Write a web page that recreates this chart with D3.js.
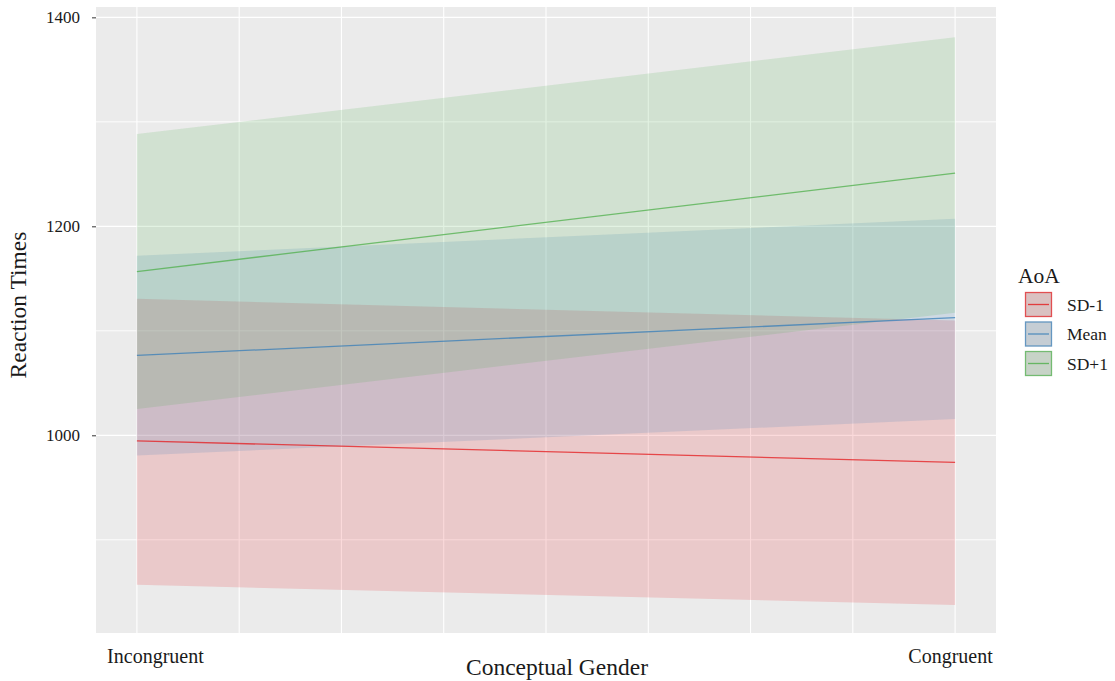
<!DOCTYPE html>
<html>
<head>
<meta charset="utf-8">
<script src="https://cdn.jsdelivr.net/npm/d3@7"></script>
<style>
  body { margin: 0; background: #fff; }
  text { font-family: "Liberation Serif", "Times New Roman", serif; fill: #1a1a1a; }
</style>
</head>
<body>
<div id="chart"></div>
<script>
// x positions (0 = Incongruent, 1 = Congruent)
const xValues = [0, 1];
const xLabels = ["Incongruent", "Congruent"];
const groups = ["SD-1", "Mean", "SD+1"];
const colors = ["#E41A1C", "#377EB8", "#4DAF4A"];

// fitted values and confidence band per group
const fitSDm1 = [994.7, 974.0];
const lowSDm1 = [856.9, 837.5];
const highSDm1 = [1130.6, 1109.8];

const fitMean = [1076.4, 1112.7];
const lowMean = [980.7, 1015.5];
const highMean = [1171.8, 1207.2];

const fitSDp1 = [1156.7, 1250.9];
const lowSDp1 = [1025.1, 1117.4];
const highSDp1 = [1288.3, 1381.0];

const yTicks = [1000, 1200, 1400];
const yMinor = [900, 1100, 1300];
const xGrid = [0, 0.125, 0.25, 0.375, 0.5, 0.625, 0.75, 0.875, 1];

const series = [
  { name: groups[0], color: colors[0], fit: fitSDm1, low: lowSDm1, high: highSDm1 },
  { name: groups[1], color: colors[1], fit: fitMean, low: lowMean, high: highMean },
  { name: groups[2], color: colors[2], fit: fitSDp1, low: lowSDp1, high: highSDp1 }
];

const width = 1115, height = 681;
const panel = { left: 96, right: 996, top: 7, bottom: 633 };
const serif = '"Liberation Serif", "Times New Roman", serif';

const svg = d3.select("#chart").append("svg")
  .attr("width", width)
  .attr("height", height);

// continuous x with ggplot style 5% expansion
const x = d3.scaleLinear().domain([-0.05, 1.05]).range([panel.left, panel.right]);
const y = d3.scaleLinear().domain([810.8, 1409.9]).range([panel.bottom, panel.top]);

// panel background
svg.append("rect")
  .attr("x", panel.left).attr("y", panel.top)
  .attr("width", panel.right - panel.left)
  .attr("height", panel.bottom - panel.top)
  .attr("fill", "#EBEBEB");

// grid lines
const grid = svg.append("g");
grid.selectAll(".ym").data(yMinor).join("line")
  .attr("x1", panel.left).attr("x2", panel.right)
  .attr("y1", d => y(d)).attr("y2", d => y(d))
  .attr("stroke", "#fff").attr("stroke-width", 0.9);
grid.selectAll(".yM").data(yTicks).join("line")
  .attr("x1", panel.left).attr("x2", panel.right)
  .attr("y1", d => y(d)).attr("y2", d => y(d))
  .attr("stroke", "#fff").attr("stroke-width", 1.3);
grid.selectAll(".xg").data(xGrid).join("line")
  .attr("y1", panel.top).attr("y2", panel.bottom)
  .attr("x1", d => x(d)).attr("x2", d => x(d))
  .attr("stroke", "#fff").attr("stroke-width", 1.1);

// ribbons
const area = d3.area()
  .x((d, i) => x(xValues[i]))
  .y0(d => y(d[0]))
  .y1(d => y(d[1]));

series.forEach(s => {
  svg.append("path")
    .datum(s.low.map((v, i) => [v, s.high[i]]))
    .attr("d", area)
    .attr("fill", s.color)
    .attr("fill-opacity", 0.16);
});

// fitted lines
const line = d3.line()
  .x((d, i) => x(xValues[i]))
  .y(d => y(d));

series.forEach(s => {
  svg.append("path")
    .datum(s.fit)
    .attr("d", line)
    .attr("fill", "none")
    .attr("stroke", s.color)
    .attr("stroke-opacity", 0.75)
    .attr("stroke-width", 1.3);
});

// y axis
const yAxisG = svg.append("g")
  .attr("transform", `translate(${panel.left},0)`)
  .call(d3.axisLeft(y).tickValues(yTicks).tickFormat(d3.format("d")).tickSize(4).tickPadding(12));
yAxisG.select(".domain").remove();
yAxisG.attr("font-family", null);
yAxisG.selectAll(".tick line").attr("stroke", "#333");
yAxisG.selectAll(".tick text").style("font-size", "17px").style("font-family", serif)
  .attr("fill", "#1a1a1a");

// x axis (no tick marks)
const xAxisG = svg.append("g")
  .attr("transform", `translate(0,${panel.bottom})`)
  .call(d3.axisBottom(x).tickValues(xValues).tickFormat((d, i) => xLabels[i]).tickSize(0).tickPadding(16));
xAxisG.select(".domain").remove();
xAxisG.attr("font-family", null);
xAxisG.selectAll(".tick text").style("font-size", "20px").style("font-family", serif)
  .attr("fill", "#1a1a1a")
  .attr("dx", (d, i) => i === 0 ? 18 : -5);

// axis titles
svg.append("text")
  .attr("x", 557).attr("y", 675)
  .attr("text-anchor", "middle")
  .style("font-size", "23.5px")
  .text("Conceptual Gender");

svg.append("text")
  .attr("transform", "translate(26,305) rotate(-90)")
  .attr("text-anchor", "middle")
  .style("font-size", "23.5px")
  .text("Reaction Times");

// legend
const legend = svg.append("g").attr("transform", "translate(1018,0)");
legend.append("text")
  .attr("x", 0).attr("y", 283)
  .style("font-size", "21.5px")
  .text("AoA");

const keys = legend.selectAll(".key").data(series).join("g")
  .attr("transform", (d, i) => `translate(7,${292 + i * 29.5})`);
keys.append("rect")
  .attr("width", 27).attr("height", 25)
  .attr("fill", "#D9D9D9");
keys.append("rect")
  .attr("x", 0.5).attr("y", 0.5)
  .attr("width", 26).attr("height", 24)
  .attr("fill", d => d.color).attr("fill-opacity", 0.12)
  .attr("stroke", d => d.color).attr("stroke-opacity", 0.7)
  .attr("stroke-width", 1.3);
keys.append("line")
  .attr("x1", 3).attr("x2", 24)
  .attr("y1", 12.5).attr("y2", 12.5)
  .attr("stroke", d => d.color).attr("stroke-opacity", 0.8)
  .attr("stroke-width", 1.3);
keys.append("text")
  .attr("x", 42).attr("y", 18.5)
  .style("font-size", "17.5px")
  .text(d => d.name);
</script>
</body>
</html>
